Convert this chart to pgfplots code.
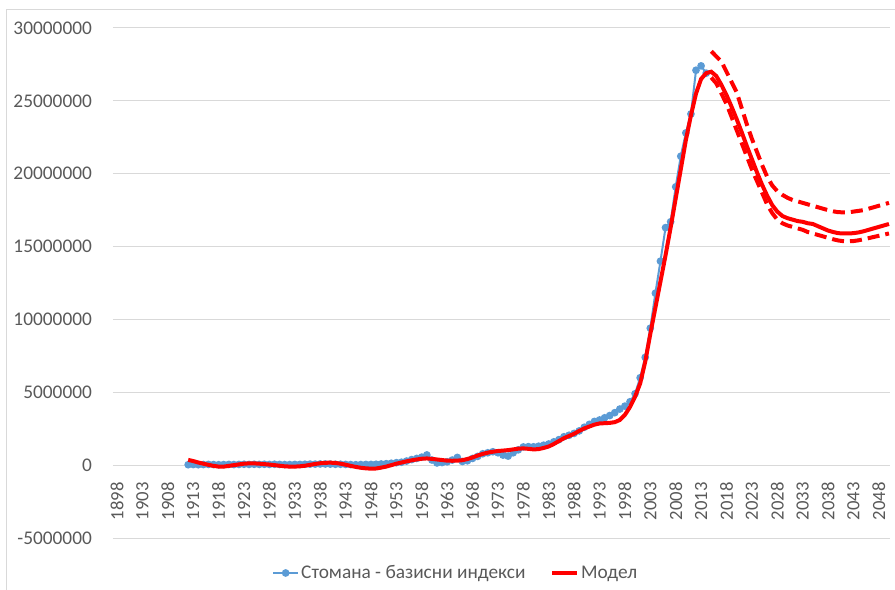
\documentclass[border=0pt]{standalone}
\usepackage{fontspec}
\setmainfont{Carlito}
\usepackage{pgfplots}
\usepackage{pgfplotstable}
\pgfplotsset{compat=1.18}
\definecolor{txtgray}{HTML}{595959}
\definecolor{gridgray}{HTML}{D9D9D9}
\definecolor{xlblue}{HTML}{5B9BD5}
\definecolor{xlred}{HTML}{FF0000}

% values in millions
\pgfplotstableread{
year v
1912 0.03
1913 0.04
1914 0.03
1915 0.04
1916 0.05
1917 0.04
1918 0.03
1919 0.04
1920 0.05
1921 0.04
1922 0.05
1923 0.06
1924 0.05
1925 0.06
1926 0.05
1927 0.06
1928 0.05
1929 0.06
1930 0.05
1931 0.04
1932 0.04
1933 0.05
1934 0.05
1935 0.06
1936 0.07
1937 0.07
1938 0.08
1939 0.08
1940 0.07
1941 0.06
1942 0.06
1943 0.05
1944 0.04
1945 0.03
1946 0.04
1947 0.05
1948 0.05
1949 0.06
1950 0.08
1951 0.10
1952 0.13
1953 0.17
1954 0.20
1955 0.28
1956 0.38
1957 0.46
1958 0.55
1959 0.70
1960 0.35
1961 0.15
1962 0.18
1963 0.23
1964 0.35
1965 0.53
1966 0.25
1967 0.30
1968 0.46
1969 0.60
1970 0.78
1971 0.85
1972 0.92
1973 0.85
1974 0.69
1975 0.62
1976 0.85
1977 1.05
1978 1.25
1979 1.27
1980 1.26
1981 1.30
1982 1.37
1983 1.45
1984 1.60
1985 1.75
1986 1.95
1987 2.05
1988 2.18
1989 2.35
1990 2.60
1991 2.80
1992 3.00
1993 3.10
1994 3.25
1995 3.40
1996 3.60
1997 3.85
1998 4.05
1999 4.35
2000 4.90
2001 6.00
2002 7.40
2003 9.40
2004 11.80
2005 14.00
2006 16.30
2007 16.70
2008 19.10
2009 21.20
2010 22.80
2011 24.10
2012 27.10
2013 27.40
2014 26.90
}\steeldata

\pgfplotstableread{
year v
1912 0.36
1913 0.28
1914 0.18
1915 0.10
1916 0.02
1917 -0.05
1918 -0.10
1919 -0.10
1920 -0.05
1921 0.00
1922 0.05
1923 0.10
1924 0.12
1925 0.12
1926 0.10
1927 0.07
1928 0.04
1929 0.00
1930 -0.04
1931 -0.08
1932 -0.10
1933 -0.10
1934 -0.08
1935 -0.04
1936 0.02
1937 0.08
1938 0.13
1939 0.16
1940 0.17
1941 0.15
1942 0.10
1943 0.03
1944 -0.05
1945 -0.12
1946 -0.18
1947 -0.22
1948 -0.24
1949 -0.23
1950 -0.17
1951 -0.10
1952 0.00
1953 0.10
1954 0.18
1955 0.26
1956 0.33
1957 0.39
1958 0.44
1959 0.46
1960 0.43
1961 0.39
1962 0.35
1963 0.31
1964 0.30
1965 0.31
1966 0.34
1967 0.42
1968 0.53
1969 0.66
1970 0.77
1971 0.86
1972 0.92
1973 0.97
1974 1.00
1975 1.03
1976 1.08
1977 1.13
1978 1.15
1979 1.12
1980 1.08
1981 1.10
1982 1.18
1983 1.28
1984 1.45
1985 1.65
1986 1.85
1987 2.00
1988 2.15
1989 2.35
1990 2.52
1991 2.65
1992 2.78
1993 2.86
1994 2.88
1995 2.90
1996 2.95
1997 3.10
1998 3.45
1999 3.99
2000 4.70
2001 5.60
2002 7.10
2003 9.00
2004 10.80
2005 12.60
2006 14.40
2007 16.30
2008 18.30
2009 20.30
2010 22.30
2011 24.00
2012 25.50
2013 26.50
2014 26.90
2015 27.00
2016 26.70
2017 26.10
2018 25.40
2019 24.60
2020 23.75
2021 22.85
2022 21.90
2023 21.00
2024 20.10
2025 19.25
2026 18.50
2027 17.85
2028 17.40
2029 17.10
2030 16.95
2031 16.85
2032 16.75
2033 16.70
2034 16.60
2035 16.55
2036 16.40
2037 16.25
2038 16.10
2039 16.00
2040 15.92
2041 15.90
2042 15.90
2043 15.92
2044 15.97
2045 16.05
2046 16.15
2047 16.25
2048 16.35
2049 16.45
2050 16.55
}\modeldata

\pgfplotstableread{
year v
2015 28.40
2016 28.05
2017 27.70
2018 27.00
2019 26.30
2020 25.60
2021 24.50
2022 23.40
2023 22.40
2024 21.50
2025 20.60
2026 19.80
2027 19.20
2028 18.80
2029 18.55
2030 18.35
2031 18.20
2032 18.10
2033 18.00
2034 17.90
2035 17.80
2036 17.70
2037 17.60
2038 17.50
2039 17.42
2040 17.36
2041 17.35
2042 17.35
2043 17.40
2044 17.45
2045 17.50
2046 17.60
2047 17.70
2048 17.80
2049 17.90
2050 18.00
}\upband

\pgfplotstableread{
year v
2015 26.60
2016 26.20
2017 25.50
2018 24.80
2019 23.90
2020 23.00
2021 22.10
2022 21.20
2023 20.30
2024 19.50
2025 18.70
2026 17.90
2027 17.30
2028 16.85
2029 16.60
2030 16.45
2031 16.35
2032 16.25
2033 16.15
2034 16.00
2035 15.90
2036 15.80
2037 15.70
2038 15.60
2039 15.50
2040 15.42
2041 15.37
2042 15.36
2043 15.38
2044 15.43
2045 15.50
2046 15.58
2047 15.66
2048 15.74
2049 15.82
2050 15.90
}\lowband

\begin{document}
\begin{tikzpicture}
\path[use as bounding box] (-84.75pt,-38.25pt) rectangle (586.5pt,403.5pt);
\draw[gridgray, line width=0.75pt] (-79.5pt,-80pt) rectangle (640pt,396pt);
\begin{axis}[
  at={(0,0)}, anchor=south west,
  scale only axis, width=582.75pt, height=382.5pt,
  xmin=1897.2, xmax=2050.2, ymin=-5, ymax=30,
  clip mode=individual,
  axis x line=middle, axis y line=left,
  axis line style={draw=none},
  hide obscured x ticks=false, hide obscured y ticks=false,
  tick style={draw=none},
  ymajorgrids, grid style={gridgray, line width=0.75pt},
  ytick={-5,0,5,10,15,20,25,30},
  yticklabels={-5000000,0,5000000,10000000,15000000,20000000,25000000,30000000},
  xtick={1898,1903,...,2048},
  /pgf/number format/assume math mode=true,
  xticklabel={\pgfmathprintnumber[1000 sep={},fixed,precision=0]{\tick}},
  yticklabel style={anchor=east, inner sep=0pt, xshift=-13.5pt,
    font=\fontsize{14.5pt}{17pt}\selectfont, text=txtgray},
  xticklabel style={yshift=-10.5pt, rotate=90, anchor=east, inner sep=0pt,
    font=\fontsize{14pt}{17pt}\selectfont, text=txtgray},
  legend style={at={(0.441,-0.0686)}, anchor=center, draw=none, fill=none,
    legend columns=2, font=\fontsize{14.5pt}{17pt}\selectfont, text=txtgray,
    nodes={inner xsep=1.5pt},
    /tikz/every even column/.append style={column sep=17pt}},
  legend cell align=left,
  legend image code/.code={\draw[mark repeat=2,mark phase=2,#1]
    plot coordinates {(0pt,0pt) (9.4pt,0pt) (18.8pt,0pt)};},
]
\addplot[xlblue, line width=1.5pt, mark=*, mark size=2.1pt,
  mark options={solid, fill=xlblue, draw=xlblue}] table[x=year, y=v] {\steeldata};
\addlegendentry{Стомана - базисни индекси}
\addplot[xlred, line width=3pt, no markers] table[x=year, y=v] {\modeldata};
\addlegendentry{Модел}
\addplot[xlred, line width=3pt, no markers, dash pattern=on 9pt off 4.5pt, forget plot]
  table[x=year, y=v] {\upband};
\addplot[xlred, line width=3pt, no markers, dash pattern=on 9pt off 4.5pt, forget plot]
  table[x=year, y=v] {\lowband};
\end{axis}
\end{tikzpicture}
\end{document}
